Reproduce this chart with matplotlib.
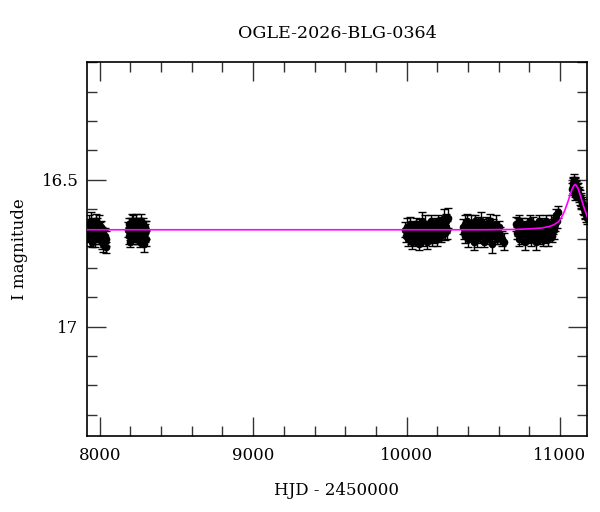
import matplotlib
matplotlib.use("Agg")
import matplotlib.pyplot as plt
from matplotlib.ticker import MultipleLocator

plt.rcParams['font.family'] = ['DejaVu Serif']

title = "OGLE-2026-BLG-0364"
xlabel = "HJD - 2450000"
ylabel = "I magnitude"

# Season 1
t1 = [7922, 7926, 7930, 7934, 7938, 7942, 7946, 7950, 7954, 7958, 7962, 7966, 7970,
      7974, 7978, 7982, 7986, 7990, 7994, 7998, 8002, 8006, 8010, 8014, 8018, 8022,
      8026, 8030, 8034, 8038, 8042]
m1 = [16.66, 16.69, 16.65, 16.70, 16.67, 16.64, 16.68, 16.71, 16.66, 16.69, 16.65,
      16.68, 16.70, 16.67, 16.64, 16.66, 16.69, 16.68, 16.65, 16.70, 16.67, 16.66,
      16.69, 16.71, 16.68, 16.72, 16.70, 16.71, 16.69, 16.73, 16.70]
e1 = [0.025, 0.02, 0.03, 0.025, 0.02, 0.03, 0.025, 0.02, 0.025, 0.03, 0.02, 0.025,
      0.03, 0.02, 0.025, 0.03, 0.02, 0.025, 0.03, 0.02, 0.025, 0.02, 0.03, 0.025,
      0.02, 0.025, 0.03, 0.02, 0.025, 0.02, 0.025]

# Season 2
t2 = [8184, 8188, 8192, 8196, 8200, 8204, 8208, 8212, 8216, 8220, 8224, 8228, 8232,
      8236, 8240, 8244, 8248, 8252, 8256, 8260, 8264, 8268, 8272, 8276, 8280, 8284,
      8288, 8292, 8296, 8300, 8304]
m2 = [16.67, 16.69, 16.65, 16.68, 16.71, 16.66, 16.64, 16.70, 16.67, 16.65, 16.69,
      16.68, 16.66, 16.64, 16.70, 16.67, 16.69, 16.65, 16.68, 16.71, 16.66, 16.64,
      16.69, 16.67, 16.70, 16.65, 16.72, 16.68, 16.66, 16.70, 16.67]
e2 = [0.025, 0.03, 0.02, 0.025, 0.02, 0.03, 0.025, 0.02, 0.025, 0.03, 0.02, 0.025,
      0.03, 0.025, 0.02, 0.025, 0.03, 0.02, 0.025, 0.02, 0.03, 0.025, 0.02, 0.03,
      0.025, 0.02, 0.025, 0.03, 0.02, 0.025, 0.03]

# Season 3
t3 = [9990, 9996, 10002, 10008, 10014, 10020, 10026, 10032, 10038, 10044, 10050,
      10056, 10062, 10068, 10074, 10080, 10086, 10092, 10098, 10104, 10110, 10116,
      10122, 10128, 10134, 10140, 10146, 10152, 10158, 10164, 10170, 10176, 10182,
      10188, 10194, 10200, 10206, 10212, 10218, 10224, 10230, 10236, 10242, 10248,
      10254, 10260, 10266, 10272]
m3 = [16.67, 16.69, 16.66, 16.70, 16.68, 16.65, 16.69, 16.67, 16.71, 16.66, 16.68,
      16.70, 16.65, 16.69, 16.67, 16.72, 16.66, 16.68, 16.64, 16.70, 16.67, 16.69,
      16.65, 16.68, 16.71, 16.66, 16.69, 16.67, 16.64, 16.70, 16.68, 16.66, 16.69,
      16.65, 16.67, 16.70, 16.64, 16.68, 16.66, 16.69, 16.65, 16.67, 16.63, 16.68,
      16.66, 16.64, 16.67, 16.63]
e3 = [0.025, 0.02, 0.03, 0.025, 0.02, 0.025, 0.03, 0.02, 0.025, 0.02, 0.03, 0.025,
      0.02, 0.025, 0.03, 0.02, 0.025, 0.02, 0.03, 0.025, 0.02, 0.025, 0.03, 0.02,
      0.025, 0.02, 0.025, 0.03, 0.02, 0.025, 0.03, 0.02, 0.025, 0.02, 0.03, 0.025,
      0.02, 0.025, 0.03, 0.02, 0.025, 0.02, 0.03, 0.025, 0.02, 0.025, 0.03, 0.035]

# Season 4
t4 = [10366, 10372, 10378, 10384, 10390, 10396, 10402, 10408, 10414, 10420, 10426,
      10432, 10438, 10444, 10450, 10456, 10462, 10468, 10474, 10480, 10486, 10492,
      10498, 10504, 10510, 10516, 10522, 10528, 10534, 10540, 10546, 10552, 10558,
      10564, 10570, 10576, 10582, 10588, 10594, 10600, 10612, 10624, 10636]
m4 = [16.66, 16.68, 16.65, 16.69, 16.67, 16.64, 16.70, 16.66, 16.68, 16.65, 16.69,
      16.67, 16.71, 16.64, 16.68, 16.66, 16.70, 16.65, 16.67, 16.69, 16.64, 16.68,
      16.66, 16.71, 16.67, 16.65, 16.69, 16.68, 16.66, 16.70, 16.64, 16.68, 16.72,
      16.66, 16.69, 16.67, 16.65, 16.70, 16.68, 16.66, 16.69, 16.70, 16.71]
e4 = [0.025, 0.02, 0.03, 0.025, 0.02, 0.025, 0.03, 0.02, 0.025, 0.03, 0.02, 0.025,
      0.03, 0.02, 0.025, 0.02, 0.03, 0.025, 0.02, 0.025, 0.03, 0.02, 0.025, 0.02,
      0.03, 0.025, 0.02, 0.025, 0.03, 0.02, 0.025, 0.02, 0.03, 0.025, 0.02, 0.025,
      0.03, 0.02, 0.025, 0.02, 0.03, 0.025, 0.03]

# Season 5
t5 = [10712, 10718, 10724, 10730, 10736, 10742, 10748, 10754, 10760, 10766, 10772,
      10778, 10784, 10790, 10796, 10802, 10808, 10814, 10820, 10826, 10832, 10838,
      10844, 10850, 10856, 10862, 10868, 10874, 10880, 10886, 10892, 10898, 10904,
      10910, 10916, 10922, 10928, 10934, 10940, 10946, 10952, 10958, 10964, 10970,
      10976, 10982, 10986]
m5 = [16.65, 16.68, 16.66, 16.70, 16.64, 16.67, 16.69, 16.65, 16.68, 16.66, 16.71,
      16.67, 16.65, 16.69, 16.68, 16.64, 16.70, 16.66, 16.68, 16.65, 16.69, 16.67,
      16.71, 16.66, 16.68, 16.64, 16.69, 16.67, 16.65, 16.70, 16.68, 16.66, 16.69,
      16.64, 16.67, 16.70, 16.66, 16.68, 16.65, 16.69, 16.66, 16.64, 16.67, 16.65,
      16.62, 16.64, 16.61]
e5 = [0.025, 0.02, 0.03, 0.025, 0.02, 0.025, 0.03, 0.02, 0.025, 0.02, 0.03, 0.025,
      0.02, 0.025, 0.03, 0.02, 0.025, 0.02, 0.03, 0.025, 0.02, 0.025, 0.03, 0.02,
      0.025, 0.02, 0.03, 0.025, 0.02, 0.025, 0.03, 0.02, 0.025, 0.02, 0.03, 0.025,
      0.02, 0.025, 0.03, 0.02, 0.025, 0.02, 0.03, 0.025, 0.02, 0.025, 0.02]

# Season 6 (event)
t6 = [11080, 11084, 11088, 11091, 11094, 11097, 11100, 11103, 11106, 11110, 11114,
      11118, 11122, 11126, 11130, 11135, 11140, 11145, 11150, 11155, 11160, 11165,
      11170, 11174, 11100, 11096]
m6 = [16.53, 16.52, 16.51, 16.52, 16.50, 16.51, 16.52, 16.52, 16.53, 16.53, 16.54,
      16.53, 16.55, 16.55, 16.56, 16.57, 16.57, 16.58, 16.59, 16.60, 16.61, 16.61,
      16.62, 16.63, 16.55, 16.54]
e6 = [0.02, 0.025, 0.02, 0.025, 0.02, 0.02, 0.025, 0.02, 0.025, 0.02, 0.025, 0.02,
      0.025, 0.02, 0.025, 0.02, 0.025, 0.02, 0.025, 0.02, 0.025, 0.02, 0.025, 0.02,
      0.02, 0.02]

# Model curve
model_t = [7900, 10500, 10700, 10800, 10880, 10930, 10960, 10990, 11010, 11030,
           11050, 11065, 11078, 11090, 11098, 11106, 11118, 11130, 11145, 11160, 11180]
model_m = [16.670, 16.670, 16.669, 16.667, 16.664, 16.659, 16.653, 16.643, 16.628,
           16.606, 16.577, 16.553, 16.533, 16.520, 16.516, 16.519, 16.530, 16.549,
           16.575, 16.600, 16.628]

xlim = (7917, 11176)
ylim = (17.372, 16.099)

fig = plt.figure(figsize=(6.0, 5.12), dpi=100)
ax = fig.add_axes([87/600, 1-436/512, 500/600, 374/512])

seasons = [(t1, m1, e1), (t2, m2, e2), (t3, m3, e3), (t4, m4, e4), (t5, m5, e5), (t6, m6, e6)]
for t, m, e in seasons:
    ax.errorbar(t, m, yerr=e, fmt='o', color='black', ecolor='black', ms=4.5,
                elinewidth=1.0, capsize=3, capthick=1.0, zorder=2)

ax.plot(model_t, model_m, color='#ff00ff', lw=1.2, zorder=3)

ax.set_xlim(*xlim)
ax.set_ylim(*ylim)

ax.xaxis.set_major_locator(MultipleLocator(1000))
ax.xaxis.set_minor_locator(MultipleLocator(200))
ax.yaxis.set_major_locator(MultipleLocator(0.5))
ax.yaxis.set_minor_locator(MultipleLocator(0.1))
ax.yaxis.set_major_formatter(matplotlib.ticker.FuncFormatter(lambda v, p: f"{v:g}"))

ax.tick_params(which='both', direction='in', top=True, right=True, color='#333333')
ax.tick_params(which='major', length=13.5, width=1.0, labelsize=12)
ax.tick_params(axis='y', which='major', pad=6)
ax.tick_params(axis='x', which='major', pad=8)
ax.tick_params(which='minor', length=7, width=1.0)
for s in ax.spines.values():
    s.set_linewidth(1.2)

ax.set_title(title, fontsize=12.6, pad=17)
ax.set_xlabel(xlabel, fontsize=12, labelpad=13)
ax.set_ylabel(ylabel, fontsize=12, labelpad=10)

fig.savefig("out.png", dpi=100)
